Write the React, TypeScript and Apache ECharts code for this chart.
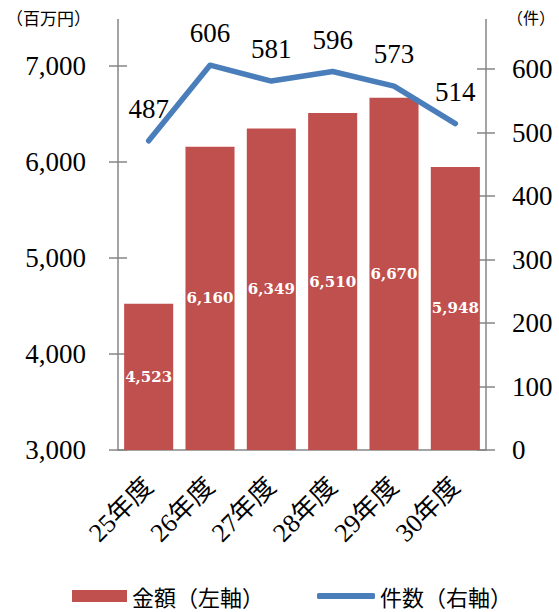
import React, { useEffect, useRef } from "react";
import * as echarts from "echarts";

const categories = ["25年度", "26年度", "27年度", "28年度", "29年度", "30年度"];
const amounts = [4523, 6160, 6349, 6510, 6670, 5948];
const counts = [487, 606, 581, 596, 573, 514];
const leftRange = [3000, 7000, 1000];
const rightRange = [0, 600, 100];
const seriesNames = ["金額（左軸）", "件数（右軸）"];
const leftUnit = "（百万円）";
const rightUnit = "（件）";

const AXIS = "#868686";
const SERIF = "'Liberation Serif', 'DejaVu Serif', 'Noto Sans CJK JP', serif";
const SANS = "'Noto Sans CJK JP', sans-serif";
const fmt = (v: number) => Number(v).toLocaleString("en-US");

export default function App() {
  const ref = useRef<HTMLDivElement>(null);
  useEffect(() => {
    if (!ref.current) return;
    const chart = echarts.init(ref.current, null, { renderer: "svg" });
    const gridL = 118, gridR = 73, gridB = 162;
    const axisLineStyle = { color: AXIS, width: 1.5 };
    const legendText = { fontSize: 22, fontFamily: SANS, color: "#000", lineHeight: 24 };
    chart.setOption({
      animation: false,
      backgroundColor: "#fff",
      grid: [
        { left: gridL, right: gridR, top: 66, bottom: gridB },
        { left: gridL, right: gridR, top: 69, bottom: gridB },
      ],
      xAxis: [
        {
          gridIndex: 0,
          type: "category",
          data: categories,
          axisLine: { lineStyle: axisLineStyle },
          axisTick: { length: 8, lineStyle: axisLineStyle },
          axisLabel: {
            rotate: 45,
            margin: 32,
            fontSize: 26,
            fontFamily: SERIF,
            color: "#000",
          },
        },
        { gridIndex: 1, type: "category", data: categories, show: false },
      ],
      yAxis: [
        {
          gridIndex: 0,
          type: "value",
          position: "left",
          min: leftRange[0],
          max: leftRange[1],
          interval: leftRange[2],
          axisLine: { show: true, lineStyle: axisLineStyle },
          axisTick: { show: true, length: 9, lineStyle: axisLineStyle },
          axisLabel: { margin: 32, fontSize: 27, fontFamily: SERIF, color: "#000", formatter: fmt },
          splitLine: { show: false },
        },
        {
          gridIndex: 0,
          type: "value",
          position: "left",
          min: leftRange[0],
          max: leftRange[1],
          interval: leftRange[2],
          axisLine: { show: false },
          axisTick: { show: true, inside: true, length: 9, lineStyle: axisLineStyle },
          axisLabel: { show: false },
          splitLine: { show: false },
        },
        {
          gridIndex: 1,
          type: "value",
          position: "right",
          min: rightRange[0],
          max: rightRange[1],
          interval: rightRange[2],
          axisLine: { show: true, lineStyle: axisLineStyle },
          axisTick: { show: true, length: 9, lineStyle: axisLineStyle },
          axisLabel: { margin: 26, fontSize: 27, fontFamily: SERIF, color: "#000" },
          splitLine: { show: false },
        },
        {
          gridIndex: 1,
          type: "value",
          position: "right",
          min: rightRange[0],
          max: rightRange[1],
          interval: rightRange[2],
          axisLine: { show: false },
          axisTick: { show: true, inside: true, length: 9, lineStyle: axisLineStyle },
          axisLabel: { show: false },
          splitLine: { show: false },
        },
      ],
      legend: [
        {
          left: 67,
          top: 579,
          itemWidth: 55,
          itemHeight: 12,
          itemGap: 8,
          textStyle: legendText,
          data: [{ name: seriesNames[0], icon: "rect" }],
        },
        {
          left: 312,
          top: 579,
          itemWidth: 58,
          itemHeight: 6,
          itemGap: 8,
          textStyle: legendText,
          data: [{ name: seriesNames[1], icon: "roundRect" }],
        },
      ],
      series: [
        {
          name: seriesNames[0],
          type: "bar",
          xAxisIndex: 0,
          yAxisIndex: 0,
          data: amounts,
          barCategoryGap: "20%",
          itemStyle: { color: "#c0504d" },
          z: 2,
          label: {
            show: true,
            position: "inside",
            color: "#fff",
            fontSize: 15,
            fontWeight: "bold",
            fontFamily: "'DejaVu Serif', serif",
            formatter: (p: any) => fmt(p.value),
          },
        },
        {
          name: seriesNames[1],
          type: "line",
          xAxisIndex: 1,
          yAxisIndex: 2,
          data: counts,
          clip: false,
          symbol: "circle",
          symbolSize: 1,
          showSymbol: true,
          z: 5,
          lineStyle: { color: "#4a7ebb", width: 5.5, cap: "round", join: "round" },
          itemStyle: { color: "#4a7ebb" },
          label: {
            show: true,
            position: "top",
            distance: 18,
            fontSize: 27,
            fontFamily: SERIF,
            color: "#000",
          },
        },
      ],
      graphic: [
        { type: "line", shape: { x1: 118, y1: 19, x2: 118, y2: 66 }, style: { stroke: AXIS, lineWidth: 1.5 } },
        { type: "line", shape: { x1: 486, y1: 19, x2: 486, y2: 69 }, style: { stroke: AXIS, lineWidth: 1.5 } },
        {
          type: "text",
          left: 6,
          top: 9,
          style: { text: leftUnit, fontSize: 17, fontFamily: SANS, fill: "#000" },
        },
        {
          type: "text",
          right: 4,
          top: 9,
          style: { text: rightUnit, fontSize: 16, fontFamily: SANS, fill: "#000" },
        },
      ],
    });
    return () => chart.dispose();
  }, []);
  return (
    <div
      ref={ref}
      style={{ position: "fixed", left: 0, top: 0, width: 559, height: 612 }}
    />
  );
}
